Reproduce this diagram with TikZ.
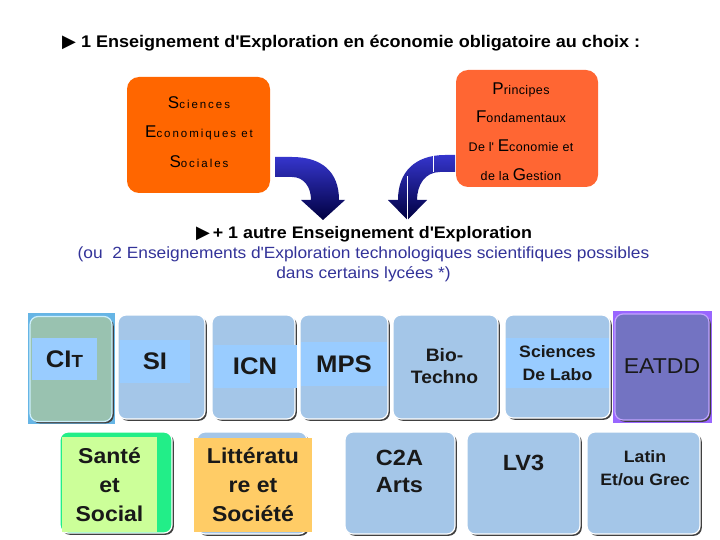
\documentclass[tikz,border=0pt]{standalone}
\usepackage{fontspec}
\setmainfont{Liberation Sans}[FakeStretch=1.07]
\newfontfamily\sesfont{Liberation Sans}[LetterSpace=17]
\newfontfamily\pfegfont{Liberation Sans}[LetterSpace=3]
\newfontfamily\symfont{DejaVu Sans}
\usetikzlibrary{shadows}
\definecolor{orangeA}{HTML}{FF6600}
\definecolor{orangeB}{HTML}{FF6633}
\definecolor{tileblue}{HTML}{A4C6E8}
\definecolor{bandblue}{HTML}{99CCFF}
\definecolor{citgreen}{HTML}{99C2B0}
\definecolor{citback}{HTML}{66B5E5}
\definecolor{purpleA}{HTML}{7373C2}
\definecolor{purpleB}{HTML}{9966FF}
\definecolor{greenA}{HTML}{22EE88}
\definecolor{greenB}{HTML}{CCFF99}
\definecolor{orangeband}{HTML}{FFCC66}
\definecolor{bluetext}{HTML}{333399}
\definecolor{arrowtop}{HTML}{3535CC}
\definecolor{arrowbot}{HTML}{000040}
\newcommand\bigL[1]{{\fontsize{17}{17}\selectfont #1}}
\newcommand\tri{{\symfont\fontsize{18}{18}\selectfont ▶}}
\newcommand\apos{\textquotesingle}
\tikzset{
  obox/.style={rounded corners=12pt, inner sep=0pt},
  tile/.style={rounded corners=8pt, draw=white, line width=1.2pt, inner sep=0pt,
    drop shadow={shadow xshift=1.8pt, shadow yshift=-1.8pt, fill=black!75, opacity=1}},
  ttext/.style={font=\bfseries\fontsize{24}{26}\selectfont, text=black!90, inner sep=0pt, align=center},
  mtext/.style={font=\bfseries\fontsize{21.5}{29}\selectfont, text=black!90, inner sep=0pt, align=center},
  stext/.style={font=\bfseries\fontsize{16.5}{23}\selectfont, text=black!90, inner sep=0pt, align=center},
}
\begin{document}
\begin{tikzpicture}[x=1pt,y=-1pt]
\useasboundingbox[fill=white] (0,0) rectangle (720,540);

% title
\node[anchor=west, inner sep=0pt, font=\bfseries\fontsize{16.85}{19}\selectfont] (title) at (62,43)
  {\tri\ 1 Enseignement d\apos Exploration en économie obligatoire au choix :};

% orange boxes
\node[obox, minimum width=143pt, minimum height=116pt, fill=orangeA] (ses) at (198.5,135) {};
\node[obox, minimum width=142pt, minimum height=117pt, fill=orangeB] (pfeg) at (527,128.5) {};
\node[inner sep=0pt, align=center, font=\sesfont\fontsize{11.5}{29.2}\selectfont] (sest) at (199,132)
  {\bigL{S}ciences\\ \bigL{E}conomiques et\\ \bigL{S}ociales};
\node[inner sep=0pt, align=center, font=\pfegfont\fontsize{12.5}{28.8}\selectfont] (pfegt) at (521,131.5)
  {\bigL{P}rincipes\\ \bigL{F}ondamentaux\\ De l\apos\ \bigL{E}conomie et\\ de la \bigL{G}estion};

% curved arrows
\shade[top color=arrowtop, bottom color=arrowbot]
  (275,157) -- (292,157) .. controls (322,157) and (339,172) .. (339,200)
  -- (345,200) -- (323,220) -- (301,200) -- (311,200)
  .. controls (311,187) and (304,177) .. (292,177) -- (275,177) -- cycle;
\shade[top color=arrowtop, bottom color=arrowbot]
  (455,155) -- (445,155) .. controls (415,155) and (398,172) .. (398,200)
  -- (388,200) -- (407.5,220) -- (427,200) -- (417,200)
  .. controls (417,185) and (425,172) .. (440,172) -- (455,172) -- cycle;
\draw[white, line width=1pt] (407.5,176) -- (407.5,220);
\draw[white, line width=1pt] (433,155) -- (433,172);

% second text
\node[anchor=west, inner sep=0pt, font=\bfseries\fontsize{16.7}{19}\selectfont] (autre) at (196,234)
  {\tri\,+ 1 autre Enseignement d\apos Exploration};
\node[inner sep=0pt, text=bluetext, align=center, font=\fontsize{16.2}{19.5}\selectfont] (ou) at (363.5,264.5)
  {(ou\ \ 2 Enseignements d\apos Exploration technologiques scientifiques possibles\\ dans certains lycées *)};

% row 1
\fill[citback] (28,313) rectangle (115,424);
\node[tile, fill=citgreen, minimum width=82pt, minimum height=105pt, draw=cyan!20] (cit) at (71,369) {};
\node[tile, fill=tileblue, minimum width=87pt, minimum height=104pt] (si) at (161.5,367) {};
\node[tile, fill=tileblue, minimum width=83pt, minimum height=104pt] (icn) at (253.5,367) {};
\node[tile, fill=tileblue, minimum width=88pt, minimum height=104pt] (mps) at (344,367) {};
\node[tile, fill=tileblue, minimum width=105pt, minimum height=104pt] (bio) at (445.5,367) {};
\node[tile, fill=tileblue, minimum width=105pt, minimum height=103pt] (labo) at (557.5,366.5) {};
\fill[purpleB] (613,311) rectangle (712,423);
\node[tile, fill=purpleA, minimum width=94pt, minimum height=106pt, draw=purpleB!60!white] (eatdd) at (662,367) {};

\node[ttext, fill=bandblue, minimum width=65pt, minimum height=42pt] (citt) at (64.5,359)
  {CI{\fontsize{17.5}{17.5}\selectfont T}};
\node[ttext, fill=bandblue, minimum width=70pt, minimum height=43pt] (sit) at (155,361.5) {SI};
\node[ttext, fill=bandblue, minimum width=83pt, minimum height=43pt] (icnt) at (255,366.5) {ICN};
\node[ttext, fill=bandblue, minimum width=86pt, minimum height=44pt] (mpst) at (344,364) {MPS};
\node[stext, font=\bfseries\fontsize{18}{22}\selectfont] (biot) at (444.5,366) {Bio-\\Techno};
\node[stext, fill=bandblue, minimum width=103pt, minimum height=50pt] (labot) at (557.5,363) {Sciences\\De Labo};
\node[inner sep=0pt, font=\fontsize{21.5}{22}\selectfont, text=black!90] (eatddt) at (662,366) {EATDD};

% row 2
\node[tile, fill=greenA, minimum width=112pt, minimum height=101pt] (sante) at (116,482.5) {};
\node[tile, fill=tileblue, minimum width=110pt, minimum height=102pt] (litt) at (252,483) {};
\node[tile, fill=tileblue, minimum width=110pt, minimum height=102pt] (c2a) at (400,483) {};
\node[tile, fill=tileblue, minimum width=113pt, minimum height=102pt] (lv3) at (523.5,483) {};
\node[tile, fill=tileblue, minimum width=113pt, minimum height=102pt] (latin) at (643.5,483) {};

\node[mtext, fill=greenB, minimum width=95pt, minimum height=95pt] (santet) at (109.5,484.5) {Santé\\et\\Social};
\node[mtext, fill=orangeband, minimum width=118pt, minimum height=94pt] (littt) at (253,485) {Littératu\\re et\\Société};
\node[mtext, font=\bfseries\fontsize{22}{27}\selectfont] (c2at) at (399.5,471.5) {C2A\\Arts};
\node[mtext, font=\bfseries\fontsize{22}{27}\selectfont] (lv3t) at (523.5,463) {LV3};
\node[stext] (latint) at (645,468.5) {Latin\\Et/ou Grec};
\end{tikzpicture}
\end{document}
